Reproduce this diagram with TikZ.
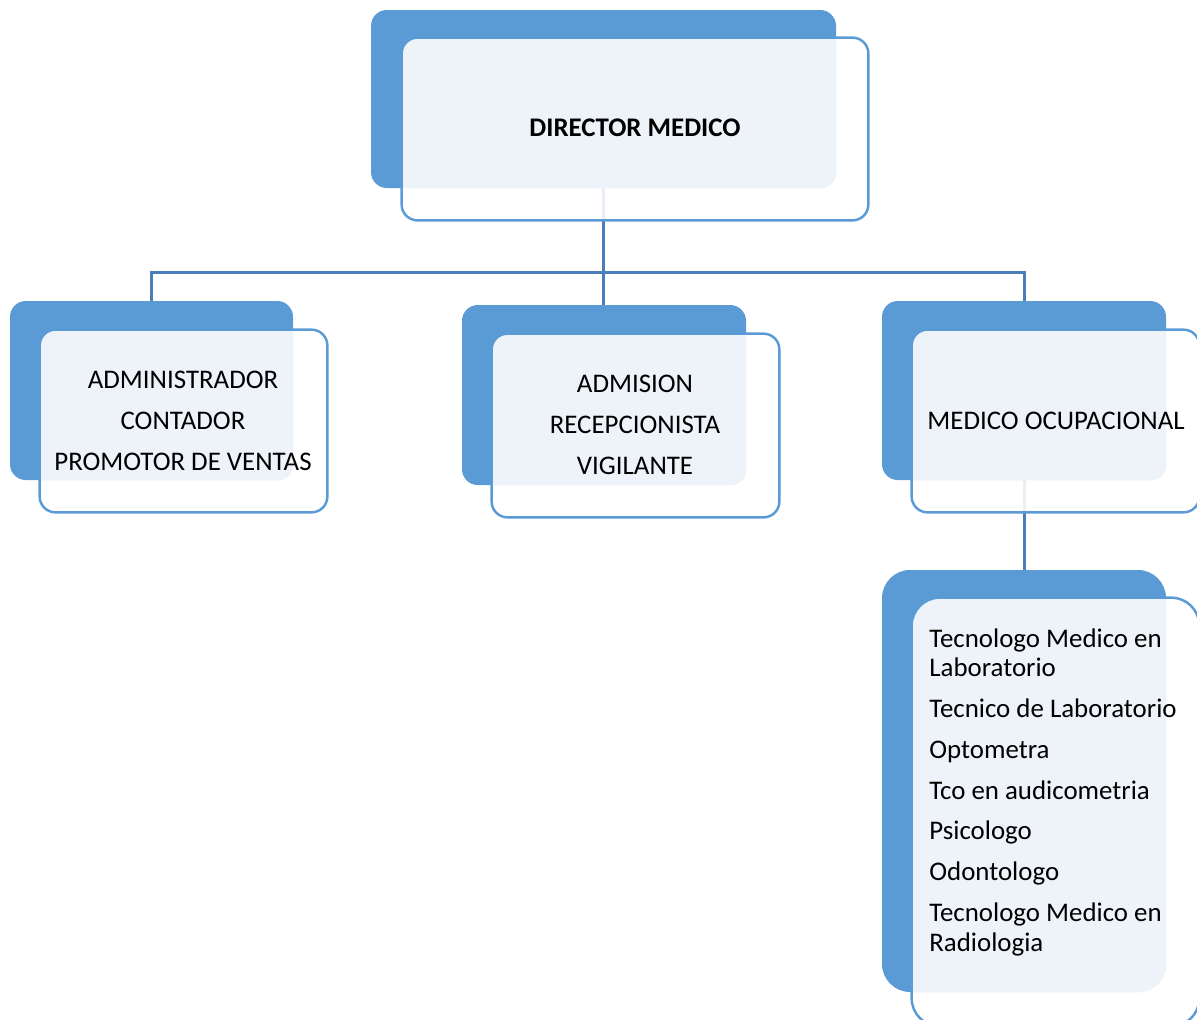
\documentclass[tikz,border=0pt]{standalone}
\usepackage{fontspec}
\setmainfont{Carlito}
\usetikzlibrary{fit}
\definecolor{bblue}{HTML}{5B9BD5}
\definecolor{lightfill}{HTML}{EEF3FA}
\definecolor{conn}{HTML}{4A7EBB}
\newcommand\orgbox[4]{%
  \node[fit={#2}, inner sep=0pt, fill=bblue, rounded corners=#4] (#1B) {};
  \node[fit={#3}, inner sep=0pt, fill=white, fill opacity=0.88, rounded corners=#4] (#1F) {};
  \begin{scope}
    \clip[rounded corners=#4] (#1F.south west) rectangle (#1F.north east);
    \fill[lightfill, rounded corners=#4] (#1B.south west) rectangle (#1B.north east);
  \end{scope}
  \draw[bblue, line width=1.4pt, rounded corners=#4] (#1F.south west) rectangle (#1F.north east);
}
\tikzset{
  conline/.style={draw=conn, line width=1.7pt},
  txt/.style={font=\fontsize{15.3}{23.2}\selectfont, inner sep=0pt, align=center},
  listtxt/.style={font=\fontsize{15.3}{17}\selectfont, inner sep=0pt, align=left, anchor=north west}
}
\begin{document}
\begin{tikzpicture}[x=0.02cm, y=-0.02cm]
\useasboundingbox (0,0) rectangle (1197,1019);
\coordinate (bus) at (0,272);
% placement frames of the back boxes (for connectors, drawn behind)
\node[fit={(371,10) (836,188)}, inner sep=0pt] (dirP) {};
\node[fit={(462,305) (746,485)}, inner sep=0pt] (midP) {};
\node[fit={(10,301) (293,480)}, inner sep=0pt] (admP) {};
\node[fit={(882,301) (1166,480)}, inner sep=0pt] (ocuP) {};
\node[fit={(882,570) (1166,992)}, inner sep=0pt] (labP) {};
\draw[conline] (dirP.south) -- (dirP.south |- midP.north);
\draw[conline] (admP.north) -- (admP.north |- bus) -| (ocuP.north);
\draw[conline] (ocuP.south) -- (labP.north);
% boxes
\orgbox{dir}{(371,10) (836,188)}{(402,38) (868,220)}{9pt}
\orgbox{adm}{(10,301) (293,480)}{(40,330) (327,512)}{9pt}
\orgbox{mid}{(462,305) (746,485)}{(492,334) (779,517)}{9pt}
\orgbox{ocu}{(882,301) (1166,480)}{(912,330) (1199,512)}{9pt}
\orgbox{lab}{(882,570) (1166,992)}{(912,598) (1199,1026)}{16pt}
% texts
\node[txt, font=\fontsize{15.3}{23.2}\selectfont\bfseries] (dirT) at (635,128) {DIRECTOR MEDICO};
\node[txt] (admT) at (183,421) {ADMINISTRADOR\\CONTADOR\\PROMOTOR DE VENTAS};
\node[txt] (midT) at (635,425) {ADMISION\\RECEPCIONISTA\\VIGILANTE};
\node[txt] (ocuT) at (1056,421) {MEDICO OCUPACIONAL};
\node[listtxt] (labT) at (929,628) {Tecnologo Medico en\\Laboratorio\\[6.2pt]Tecnico de Laboratorio\\[6.2pt]Optometra\\[6.2pt]Tco en audicometria\\[6.2pt]Psicologo\\[6.2pt]Odontologo\\[6.2pt]Tecnologo Medico en\\Radiologia};
\end{tikzpicture}
\end{document}
